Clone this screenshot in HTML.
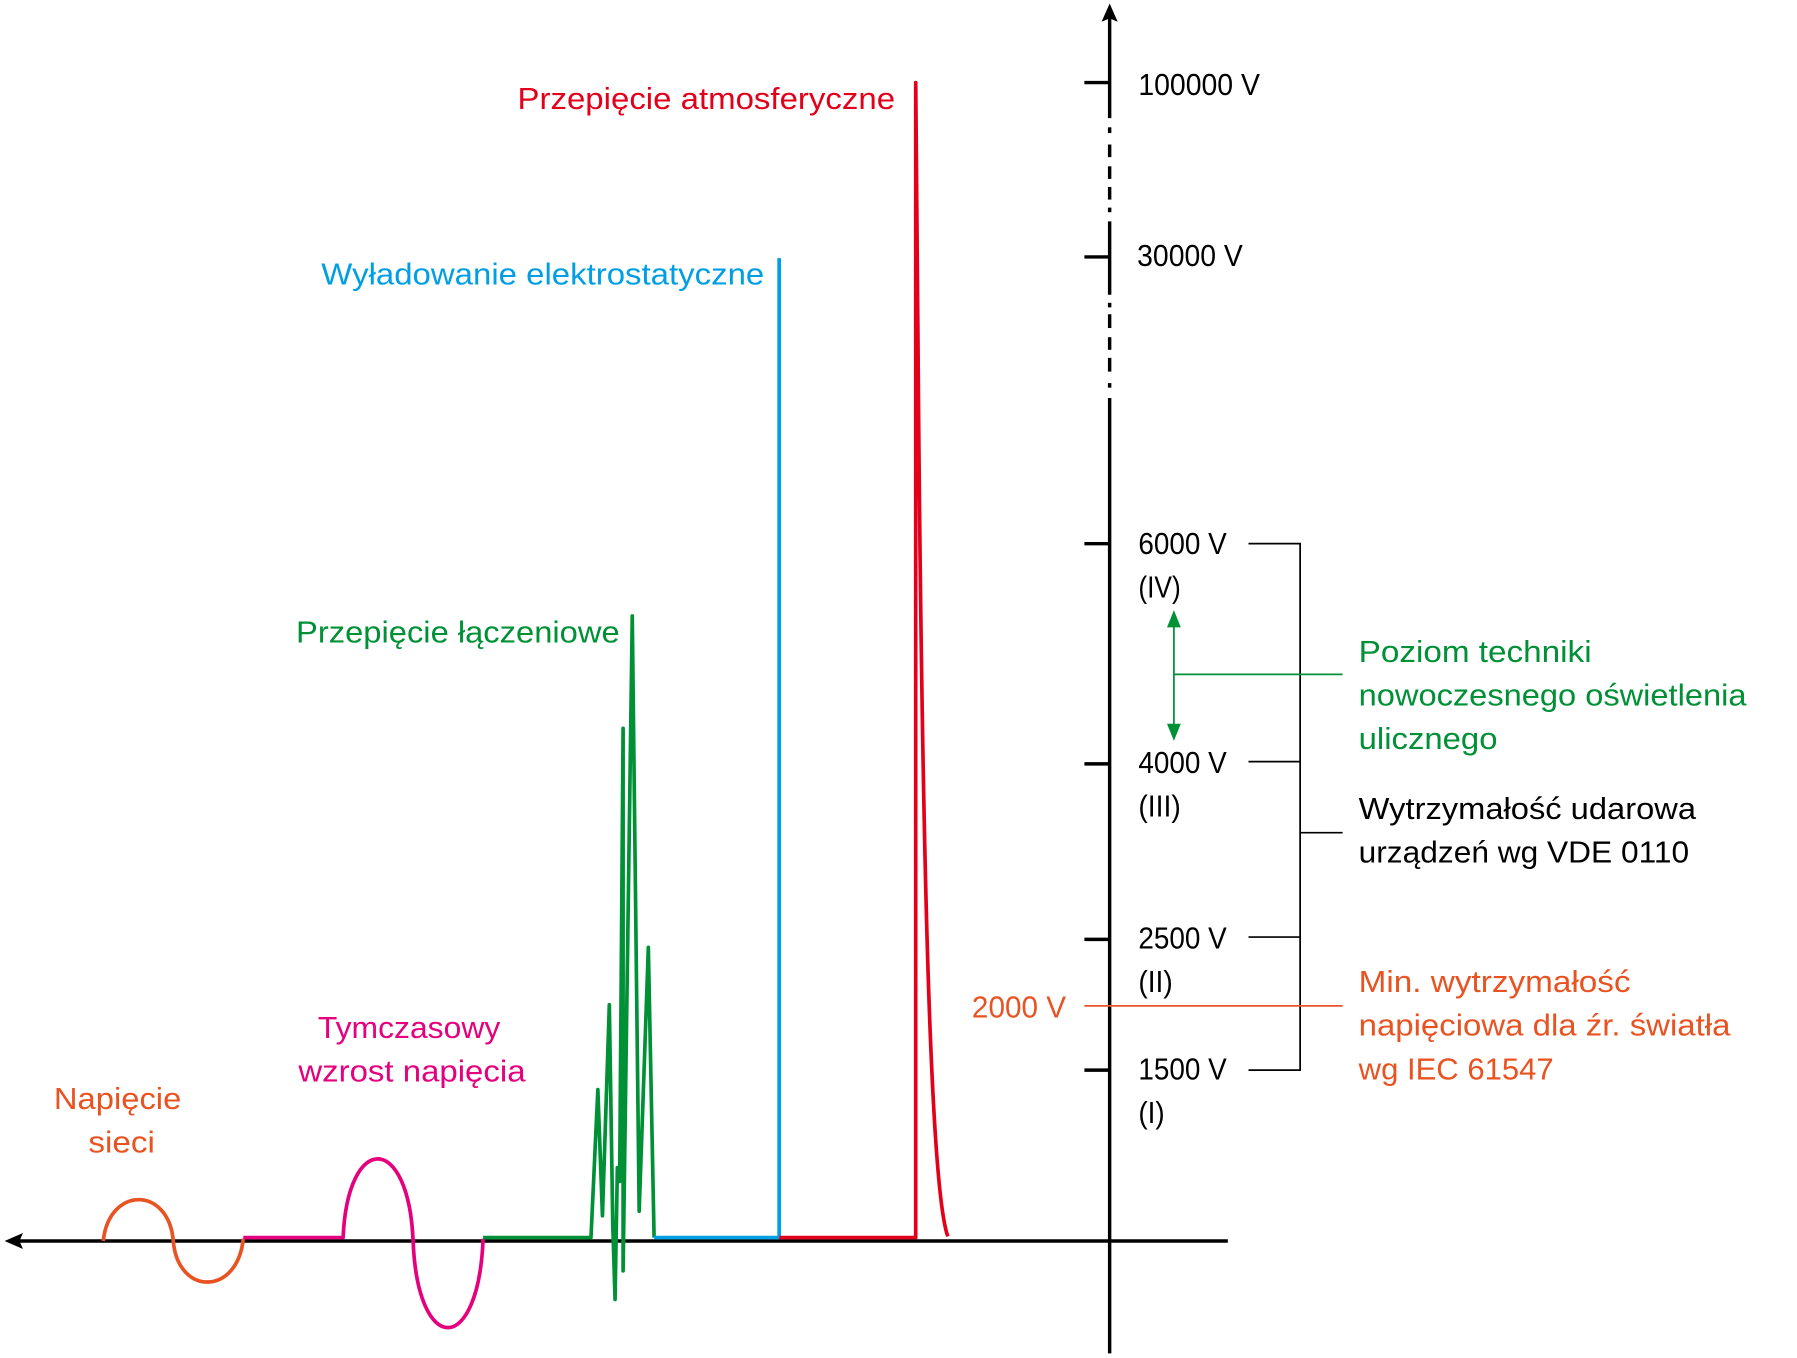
<!DOCTYPE html>
<html><head><meta charset="utf-8"><style>
html,body{margin:0;padding:0;background:#fff;}
svg{display:block;}
text{font-family:"Liberation Sans Narrow","Liberation Sans",sans-serif;font-size:27px;}
</style></head><body>
<svg width="1797" height="1358" viewBox="0 0 1566 1184" preserveAspectRatio="none" xmlns="http://www.w3.org/2000/svg">
<rect width="1566" height="1184" fill="#fff"/>
<line x1="14" y1="1082" x2="1070" y2="1082" stroke="#000" stroke-width="3"/>
<polygon points="4,1082 20,1075 17,1082 20,1089" fill="#000"/>
<polygon points="967,3 960,19 967,16 974,19" fill="#000"/>
<g stroke="#000" stroke-width="3" fill="none">
<line x1="967" y1="15" x2="967" y2="103"/>
<line x1="967" y1="111" x2="967" y2="116"/>
<line x1="967" y1="126" x2="967" y2="137"/>
<line x1="967" y1="145" x2="967" y2="156"/>
<line x1="967" y1="163" x2="967" y2="174"/>
<line x1="967" y1="181" x2="967" y2="185"/>
<line x1="967" y1="193" x2="967" y2="257"/>
<line x1="967" y1="264" x2="967" y2="268"/>
<line x1="967" y1="274" x2="967" y2="286"/>
<line x1="967" y1="294" x2="967" y2="305"/>
<line x1="967" y1="312" x2="967" y2="324"/>
<line x1="967" y1="334" x2="967" y2="338"/>
<line x1="967" y1="347" x2="967" y2="1180"/>
<line x1="945" y1="72" x2="967" y2="72"/>
<line x1="945" y1="224" x2="967" y2="224"/>
<line x1="945" y1="474" x2="967" y2="474"/>
<line x1="945" y1="666" x2="967" y2="666"/>
<line x1="945" y1="819" x2="967" y2="819"/>
<line x1="945" y1="933" x2="967" y2="933"/>
</g>
<g stroke="#000" stroke-width="1.5" fill="none">
<polyline points="1088,474 1133,474 1133,933 1088,933"/>
<line x1="1088" y1="664" x2="1133" y2="664"/>
<line x1="1088" y1="817" x2="1133" y2="817"/>
<line x1="1133" y1="726" x2="1170" y2="726"/>
</g>
<line x1="945" y1="877" x2="1170" y2="877" stroke="#e8542a" stroke-width="1.5"/>
<g stroke="#009036" stroke-width="1.5">
<line x1="1023" y1="545" x2="1023" y2="635"/>
<line x1="1023" y1="588" x2="1170" y2="588"/>
</g>
<polygon points="1023,532 1017,547 1029,547" fill="#009036"/>
<polygon points="1023,646 1017,631 1029,631" fill="#009036"/>
<g fill="none" stroke-width="3.2" stroke-linejoin="round">
<path d="M90 1082 C95 1034,147 1034,151 1082 C155 1130,207 1130,212 1080" stroke="#e85321"/>
<path d="M212 1079 L299 1079 C303 987,356 987,360 1082 C364 1183,417 1183,421 1080" stroke="#e5007d"/>
<path d="M421 1079 L515 1079 L521 950 L525 1060 L531 876 L534 1068 L536 1133 L538 1018 L540 1030 L543 635 L543 1108 L551 537 L557 1056 L565 826 L570 1079" stroke="#009036"/>
<path d="M570 1079 L679 1079 L679 225" stroke="#009fe3"/>
<path d="M679 1079 L798 1079 L798 72 L800 300 C804 800,812 1040,826 1078" stroke="#e2001a"/>
</g>
<g fill="#e2001a"><text x="451" y="95" textLength="329" lengthAdjust="spacingAndGlyphs">Przepięcie atmosferyczne</text></g>
<g fill="#009fe3"><text x="280" y="248" textLength="386" lengthAdjust="spacingAndGlyphs">Wyładowanie elektrostatyczne</text></g>
<g fill="#009036">
<text x="258" y="560" textLength="282" lengthAdjust="spacingAndGlyphs">Przepięcie łączeniowe</text>
<text x="1184" y="577" textLength="203" lengthAdjust="spacingAndGlyphs">Poziom techniki</text>
<text x="1184" y="615" textLength="338" lengthAdjust="spacingAndGlyphs">nowoczesnego oświetlenia</text>
<text x="1184" y="653" textLength="121" lengthAdjust="spacingAndGlyphs">ulicznego</text>
</g>
<g fill="#e5007d">
<text x="277" y="905" textLength="159" lengthAdjust="spacingAndGlyphs">Tymczasowy</text>
<text x="260" y="943" textLength="198" lengthAdjust="spacingAndGlyphs">wzrost napięcia</text>
</g>
<g fill="#e85321">
<text x="47" y="967" textLength="111" lengthAdjust="spacingAndGlyphs">Napięcie</text>
<text x="77" y="1005" textLength="58" lengthAdjust="spacingAndGlyphs">sieci</text>
<text x="847" y="887" textLength="82" lengthAdjust="spacingAndGlyphs">2000 V</text>
<text x="1184" y="865" textLength="237" lengthAdjust="spacingAndGlyphs">Min. wytrzymałość</text>
<text x="1184" y="903" textLength="324" lengthAdjust="spacingAndGlyphs">napięciowa dla źr. światła</text>
<text x="1184" y="941" textLength="170" lengthAdjust="spacingAndGlyphs">wg IEC 61547</text>
</g>
<g fill="#000">
<text x="992" y="83" textLength="106" lengthAdjust="spacingAndGlyphs">100000 V</text>
<text x="991" y="232" textLength="92" lengthAdjust="spacingAndGlyphs">30000 V</text>
<text x="992" y="483" textLength="77" lengthAdjust="spacingAndGlyphs">6000 V</text>
<text x="992" y="521" textLength="37" lengthAdjust="spacingAndGlyphs">(IV)</text>
<text x="992" y="674" textLength="77" lengthAdjust="spacingAndGlyphs">4000 V</text>
<text x="992" y="712" textLength="37" lengthAdjust="spacingAndGlyphs">(III)</text>
<text x="992" y="827" textLength="77" lengthAdjust="spacingAndGlyphs">2500 V</text>
<text x="992" y="865" textLength="30" lengthAdjust="spacingAndGlyphs">(II)</text>
<text x="992" y="941" textLength="77" lengthAdjust="spacingAndGlyphs">1500 V</text>
<text x="992" y="979" textLength="23" lengthAdjust="spacingAndGlyphs">(I)</text>
<text x="1184" y="714" textLength="294" lengthAdjust="spacingAndGlyphs">Wytrzymałość udarowa</text>
<text x="1184" y="752" textLength="288" lengthAdjust="spacingAndGlyphs">urządzeń wg VDE 0110</text>
</g>
</svg>
</body></html>
